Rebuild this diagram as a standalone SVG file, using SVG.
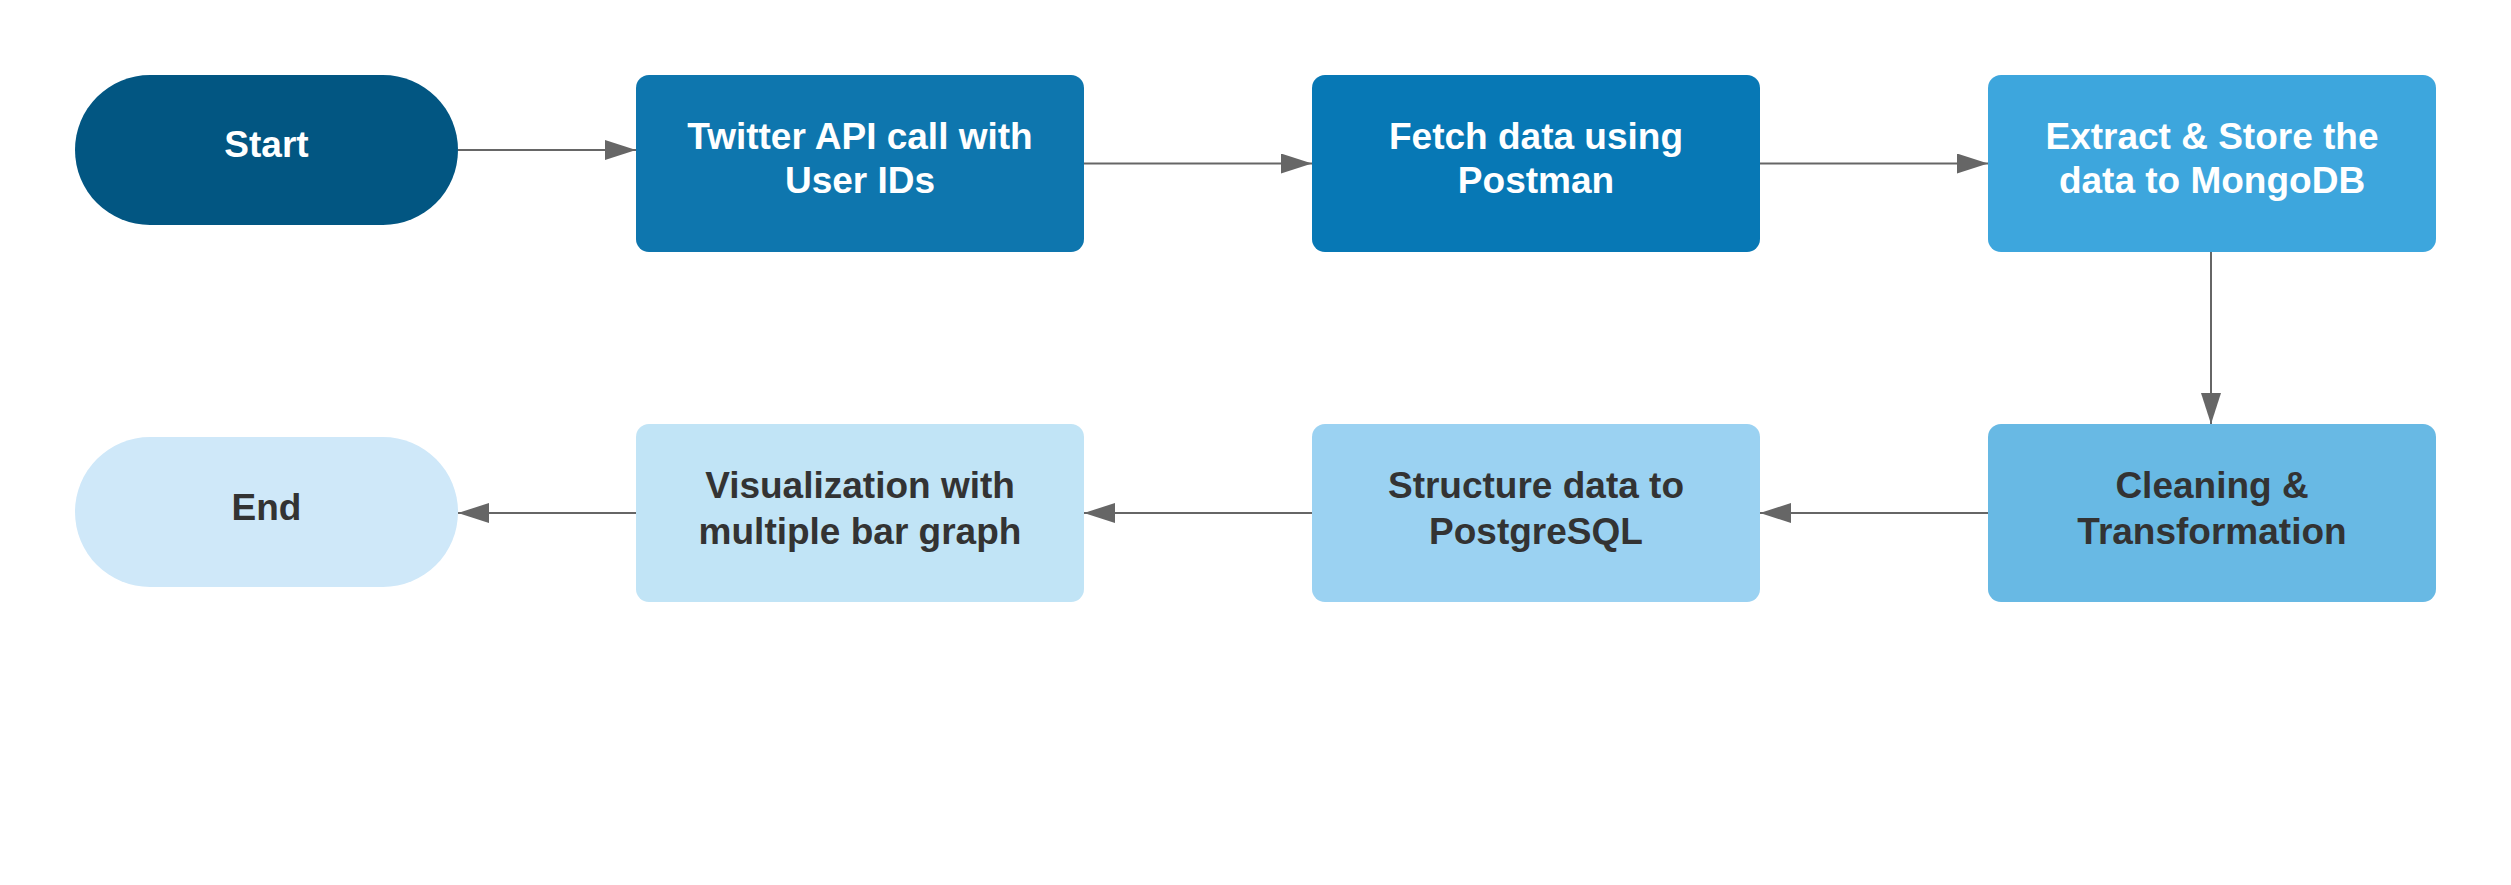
<svg xmlns="http://www.w3.org/2000/svg" width="2511" height="885" viewBox="0 0 2511 885">
<style>
.lbl{font-family:"Liberation Sans",Arial,sans-serif;font-weight:bold;font-size:37px;text-anchor:middle}
.w{fill:#ffffff}
.d{fill:#333333}
.c{stroke:#666666;stroke-width:2;fill:none}
</style>
<defs>
<marker id="ah" markerUnits="userSpaceOnUse" markerWidth="32" markerHeight="20" refX="31" refY="10" orient="auto">
<path d="M0,0 L31,10 L0,20 Z" fill="#666666"/>
</marker>
</defs>
<rect width="2511" height="885" fill="#ffffff"/>
<g id="connectors">
<line class="c" x1="458" y1="150" x2="636" y2="150" marker-end="url(#ah)"/>
<line class="c" x1="1084" y1="163.5" x2="1312" y2="163.5" marker-end="url(#ah)"/>
<line class="c" x1="1760" y1="163.5" x2="1988" y2="163.5" marker-end="url(#ah)"/>
<line class="c" x1="2211" y1="252" x2="2211" y2="424" marker-end="url(#ah)"/>
<line class="c" x1="1988" y1="513" x2="1760" y2="513" marker-end="url(#ah)"/>
<line class="c" x1="1312" y1="513" x2="1084" y2="513" marker-end="url(#ah)"/>
<line class="c" x1="636" y1="513" x2="458" y2="513" marker-end="url(#ah)"/>
</g>
<g id="start">
<rect x="75" y="75" width="383" height="150" rx="75" ry="75" fill="#025682"/>
<text class="lbl w" x="266.5" y="157">Start</text>
</g>
<g id="twitter">
<rect x="636" y="75" width="448" height="177" rx="13" fill="#0E76AE"/>
<text class="lbl w" x="860" y="149">Twitter API call with</text>
<text class="lbl w" x="860" y="193">User IDs</text>
</g>
<g id="fetch">
<rect x="1312" y="75" width="448" height="177" rx="13" fill="#0778B5"/>
<text class="lbl w" x="1536" y="149">Fetch data using</text>
<text class="lbl w" x="1536" y="193">Postman</text>
</g>
<g id="extract">
<rect x="1988" y="75" width="448" height="177" rx="13" fill="#3DA6DD"/>
<text class="lbl w" x="2212" y="149">Extract &amp; Store the</text>
<text class="lbl w" x="2212" y="193">data to MongoDB</text>
</g>
<g id="cleaning">
<rect x="1988" y="424" width="448" height="178" rx="13" fill="#68B9E4"/>
<text class="lbl d" x="2212" y="498">Cleaning &amp;</text>
<text class="lbl d" x="2212" y="544">Transformation</text>
</g>
<g id="structure">
<rect x="1312" y="424" width="448" height="178" rx="13" fill="#9BD2F2"/>
<text class="lbl d" x="1536" y="498">Structure data to</text>
<text class="lbl d" x="1536" y="544">PostgreSQL</text>
</g>
<g id="visualization">
<rect x="636" y="424" width="448" height="178" rx="13" fill="#C1E4F6"/>
<text class="lbl d" x="860" y="498">Visualization with</text>
<text class="lbl d" x="860" y="544">multiple bar graph</text>
</g>
<g id="end">
<rect x="75" y="437" width="383" height="150" rx="75" ry="75" fill="#CFE8F9"/>
<text class="lbl d" x="266.5" y="520">End</text>
</g>
</svg>
